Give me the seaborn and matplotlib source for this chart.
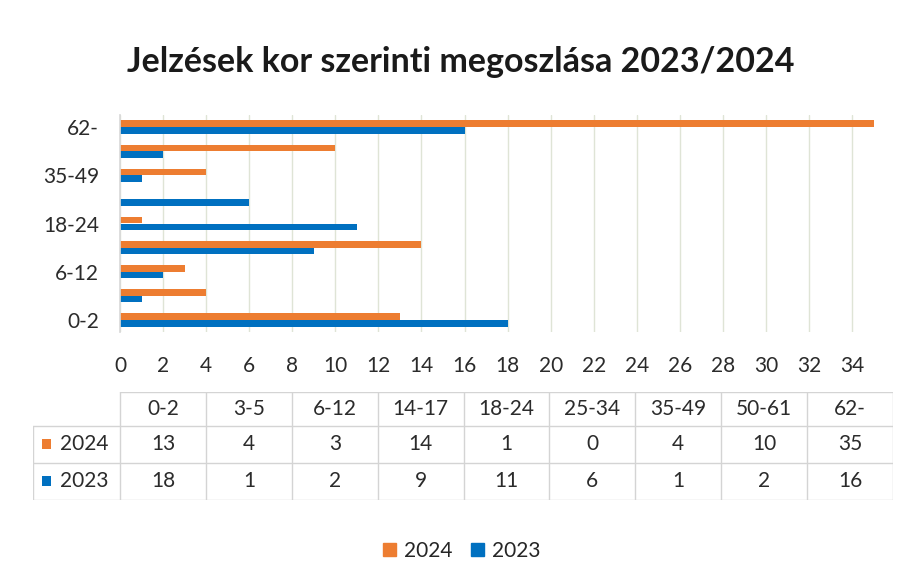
import matplotlib
matplotlib.use("Agg")
import matplotlib.pyplot as plt
import seaborn as sns
import pandas as pd
from matplotlib.patches import Rectangle

categories = ["0-2", "3-5", "6-12", "14-17", "18-24", "25-34", "35-49", "50-61", "62-"]
values_2024 = [13, 4, 3, 14, 1, 0, 4, 10, 35]
values_2023 = [18, 1, 2, 9, 11, 6, 1, 2, 16]
series_names = ["2024", "2023"]
x_ticks = list(range(0, 35, 2))

title = "Jelzések kor szerinti megoszlása 2023/2024"
c24 = "#ED7D31"
c23 = "#0070C0"

sns.set_theme(style="white")
plt.rcParams["font.family"] = ["Lato", "DejaVu Sans"]

df = pd.DataFrame({
    "kor": categories * 2,
    "ev": [series_names[0]] * len(categories) + [series_names[1]] * len(categories),
    "db": values_2024 + values_2023,
})

W, H = 905, 587
fig = plt.figure(figsize=(W / 100, H / 100), dpi=100)
fig.patch.set_facecolor("white")

ax_l, ax_r, ax_t, ax_b = 120, 893, 115, 332
ax = fig.add_axes([ax_l / W, 1 - ax_b / H, (ax_r - ax_l) / W, (ax_b - ax_t) / H])

order = categories[::-1]
sns.barplot(data=df, y="kor", x="db", hue="ev", order=order, hue_order=series_names,
            palette=[c24, c23], orient="h", width=0.55, ax=ax, legend=False,
            saturation=1, linewidth=0)

fs = 15
txt = "#2b2b2b"
ax.set_xlim(0, 35.9)
ax.set_ylim(8.5, -0.5)
ax.set_xticks(x_ticks)
ax.set_xticklabels([str(t) for t in x_ticks], fontsize=fs, color=txt)
ylabels = [c if i % 2 == 0 else "" for i, c in enumerate(categories)][::-1]
ax.set_yticks(range(len(order)))
ax.set_yticklabels(ylabels, fontsize=fs, color=txt)
ax.tick_params(axis="x", length=0, pad=17)
ax.tick_params(axis="y", length=0, pad=15)
ax.set_xlabel("")
ax.set_ylabel("")
ax.grid(axis="x", color="#dfe4d6", linewidth=1)
ax.set_axisbelow(True)
for s in ["top", "right", "bottom"]:
    ax.spines[s].set_visible(False)
ax.spines["left"].set_color("#d9d9d9")

fig.text(461 / W, 1 - 62 / H, title, ha="center", va="center",
         fontsize=24.5, fontweight="bold", color="#1a1a1a")

# data table
tl, tr, ttop, tbot = 33, 893, 392, 500
tax = fig.add_axes([tl / W, 1 - tbot / H, (tr - tl) / W, (tbot - ttop) / H])
tax.set_xlim(tl, tr)
tax.set_ylim(tbot, ttop)
tax.axis("off")
lc = "#d4d4d4"
col0 = 120
cw = (tr - col0) / len(categories)
rows = [ttop, ttop + 34, ttop + 71, tbot]
tax.plot([col0, tr], [rows[0], rows[0]], color=lc, lw=1)
for y in rows[1:]:
    tax.plot([tl, tr], [y, y], color=lc, lw=1)
for k in range(len(categories) + 1):
    x = col0 + k * cw
    tax.plot([x, x], [rows[0], rows[3]], color=lc, lw=1)
tax.plot([tl, tl], [rows[1], rows[3]], color=lc, lw=1)
for k, c in enumerate(categories):
    xc = col0 + (k + 0.5) * cw
    tax.text(xc, (rows[0] + rows[1]) / 2, c, ha="center", va="center", fontsize=fs, color=txt)
    tax.text(xc, (rows[1] + rows[2]) / 2, str(values_2024[k]), ha="center", va="center", fontsize=fs, color=txt)
    tax.text(xc, (rows[2] + rows[3]) / 2, str(values_2023[k]), ha="center", va="center", fontsize=fs, color=txt)
for r, (name, col) in enumerate(zip(series_names, [c24, c23])):
    yc = (rows[r + 1] + rows[r + 2]) / 2
    tax.add_patch(Rectangle((42, yc - 5), 9, 10, color=col, lw=0))
    tax.text(60, yc, name, ha="left", va="center", fontsize=fs, color=txt)

# legend
handles = [Rectangle((0, 0), 1, 1, color=c24), Rectangle((0, 0), 1, 1, color=c23)]
fig.legend(handles, series_names, loc="center", bbox_to_anchor=(462 / W, 1 - 551 / H),
           ncol=2, frameon=False, fontsize=fs, handlelength=0.6, handleheight=0.6,
           handletextpad=0.4, columnspacing=0.9)

fig.savefig("out.png", dpi=100)
